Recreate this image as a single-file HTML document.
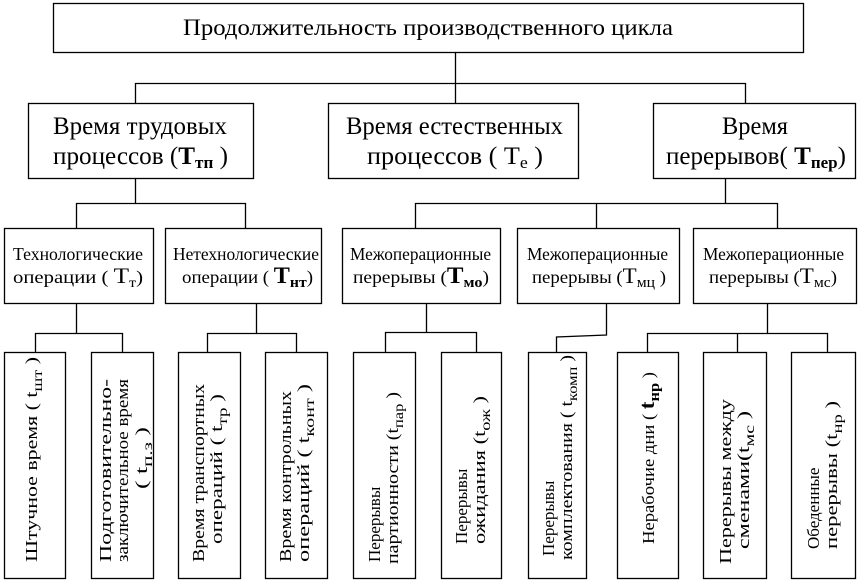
<!DOCTYPE html>
<html><head><meta charset="utf-8"><style>
html,body{margin:0;padding:0;background:#fff;}
svg{display:block;}
text{font-family:"Liberation Serif",serif;fill:#000;}
</style></head><body>
<svg width="860" height="582" viewBox="0 0 860 582" xmlns="http://www.w3.org/2000/svg">
<g fill="none" stroke="#000" stroke-width="1.3">
<rect x="53.5" y="3.5" width="750" height="49"/>
<rect x="28.5" y="103.5" width="225" height="75"/>
<rect x="328.5" y="103.5" width="250" height="75"/>
<rect x="653.5" y="103.5" width="202" height="75"/>
<rect x="4.5" y="228.5" width="149" height="75"/>
<rect x="165.5" y="228.5" width="156" height="75"/>
<rect x="342.5" y="228.5" width="158" height="75"/>
<rect x="517.5" y="228.5" width="162" height="75"/>
<rect x="693.5" y="228.5" width="163" height="75"/>
<rect x="4.5" y="352.5" width="61" height="226"/>
<rect x="91.5" y="352.5" width="62" height="226"/>
<rect x="178.5" y="352.5" width="62" height="226"/>
<rect x="265.5" y="352.5" width="62" height="226"/>
<rect x="353.5" y="352.5" width="62" height="226"/>
<rect x="441.5" y="352.5" width="60" height="226"/>
<rect x="528.5" y="352.5" width="58" height="226"/>
<rect x="617.5" y="352.5" width="61" height="226"/>
<rect x="703.5" y="352.5" width="63" height="226"/>
<rect x="791.5" y="352.5" width="64" height="226"/>
<path d="M455.5 53V103 M135.5 103V83.5H745.5V103"/>
<path d="M135.5 178V203.5H76.5V228 M76.5 203.5H245.5V228"/>
<path d="M725.5 178V203.5 M415.5 228V203.5H777.5V228 M596.5 203.5V228"/>
<path d="M76.5 303V333.5 M35.5 352V333.5H122.5V352"/>
<path d="M256.5 303V333.5 M207.5 352V333.5H296.5V352"/>
<path d="M426.5 303V332.5 M385.5 352V332.5H476.5V352"/>
<path d="M606.5 303V335 L556.5 337V352"/>
<path d="M767.5 303V333.5 M647.5 352V333.5H827.5V352 M737.5 333.5V352"/>
</g>
<text x="183" y="35" font-size="23" textLength="490" lengthAdjust="spacingAndGlyphs">Продолжительность производственного цикла</text>
<g font-size="25">
<text x="53" y="134" textLength="174" lengthAdjust="spacingAndGlyphs">Время трудовых</text>
<text x="53" y="164" textLength="175" lengthAdjust="spacingAndGlyphs">процессов (<tspan font-weight="bold">Т</tspan><tspan font-weight="bold" font-size="17" dy="4">тп</tspan><tspan dy="-4"> )</tspan></text>
<text x="346" y="134" textLength="217" lengthAdjust="spacingAndGlyphs">Время естественных</text>
<text x="367" y="164" textLength="176" lengthAdjust="spacingAndGlyphs">процессов (  Т<tspan font-size="17" dy="4">е</tspan><tspan dy="-4">  )</tspan></text>
<text x="722" y="134" textLength="66" lengthAdjust="spacingAndGlyphs">Время</text>
<text x="666" y="164" textLength="180" lengthAdjust="spacingAndGlyphs">перерывов( <tspan font-weight="bold">Т</tspan><tspan font-weight="bold" font-size="17" dy="4">пер</tspan><tspan dy="-4">)</tspan></text>
</g>
<g font-size="18">
<text x="13" y="260" textLength="130" lengthAdjust="spacingAndGlyphs">Технологические</text>
<text x="13" y="283" textLength="130" lengthAdjust="spacingAndGlyphs">операции (    <tspan font-size="22">Т</tspan><tspan font-size="14" dy="4">т</tspan><tspan dy="-4">)</tspan></text>
<text x="173" y="260" textLength="146" lengthAdjust="spacingAndGlyphs">Нетехнологические</text>
<text x="182" y="283" textLength="131" lengthAdjust="spacingAndGlyphs">операции ( <tspan font-weight="bold" font-size="23">Т</tspan><tspan font-weight="bold" font-size="15" dy="4">нт</tspan><tspan dy="-4">)</tspan></text>
<text x="350" y="260" textLength="141" lengthAdjust="spacingAndGlyphs">Межоперационные</text>
<text x="353" y="283" textLength="136" lengthAdjust="spacingAndGlyphs">перерывы (<tspan font-weight="bold" font-size="23">Т</tspan><tspan font-weight="bold" font-size="15" dy="4">мо</tspan><tspan dy="-4">)</tspan></text>
<text x="527" y="260" textLength="141" lengthAdjust="spacingAndGlyphs">Межоперационные</text>
<text x="532" y="283" textLength="134" lengthAdjust="spacingAndGlyphs">перерывы (<tspan font-size="22">Т</tspan><tspan font-size="15" dy="4">мц</tspan><tspan dy="-4"> )</tspan></text>
<text x="703" y="260" textLength="141" lengthAdjust="spacingAndGlyphs">Межоперационные</text>
<text x="709" y="283" textLength="128" lengthAdjust="spacingAndGlyphs">перерывы (<tspan font-size="22">Т</tspan><tspan font-size="15" dy="4">мс</tspan><tspan dy="-4">)</tspan></text>
</g>
<g font-size="17">
<g transform="translate(0,562) rotate(-90)">
<text x="0" y="37" textLength="205" lengthAdjust="spacingAndGlyphs">Штучное время ( t<tspan font-size="14" dy="5">шт</tspan><tspan dy="-5"> )</tspan></text>
<text x="0" y="111" textLength="183" lengthAdjust="spacingAndGlyphs">Подготовительно-</text>
<text x="0" y="128" textLength="183" lengthAdjust="spacingAndGlyphs">заключительное время</text>
<text x="73" y="147" textLength="62" lengthAdjust="spacingAndGlyphs">( t<tspan font-size="14" dy="5">п.з</tspan><tspan dy="-5"> )</tspan></text>
<text x="0" y="204" textLength="178" lengthAdjust="spacingAndGlyphs">Время транспортных</text>
<text x="18" y="222" textLength="150" lengthAdjust="spacingAndGlyphs">операций ( t<tspan font-size="14" dy="5">тр</tspan><tspan dy="-5"> )</tspan></text>
<text x="0" y="291" textLength="171" lengthAdjust="spacingAndGlyphs">Время контрольных</text>
<text x="0" y="309" textLength="178" lengthAdjust="spacingAndGlyphs">операций ( t<tspan font-size="14" dy="5">конт</tspan><tspan dy="-5"> )</tspan></text>
<text x="0" y="380">Перерывы</text>
<text x="-2" y="398" textLength="172" lengthAdjust="spacingAndGlyphs">партионности (t<tspan font-size="14" dy="5">пар</tspan><tspan dy="-5"> )</tspan></text>
<text x="18" y="467">Перерывы</text>
<text x="18" y="485" textLength="148" lengthAdjust="spacingAndGlyphs">ожидания (t<tspan font-size="14" dy="5">ож</tspan><tspan dy="-5"> )</tspan></text>
<text x="6" y="554">Перерывы</text>
<text x="2" y="572" textLength="205" lengthAdjust="spacingAndGlyphs">комплектования ( t<tspan font-size="14" dy="5">комп</tspan><tspan dy="-5"> )</tspan></text>
<text x="18" y="654" textLength="172" lengthAdjust="spacingAndGlyphs">Нерабочие дни ( <tspan font-weight="bold" font-size="21">t</tspan><tspan font-weight="bold" font-size="15" dy="5">нр</tspan><tspan dy="-5"> )</tspan></text>
<text x="-2" y="731" textLength="165" lengthAdjust="spacingAndGlyphs">Перерывы между</text>
<text x="13" y="749" textLength="138" lengthAdjust="spacingAndGlyphs">сменами(t<tspan font-size="14" dy="5">мс</tspan><tspan dy="-5"> )</tspan></text>
<text x="13" y="819">Обеденные</text>
<text x="13" y="837" textLength="148" lengthAdjust="spacingAndGlyphs">перерывы (t<tspan font-size="14" dy="5">нр</tspan><tspan dy="-5"> )</tspan></text>
</g>
</g>
</svg>
</body></html>
